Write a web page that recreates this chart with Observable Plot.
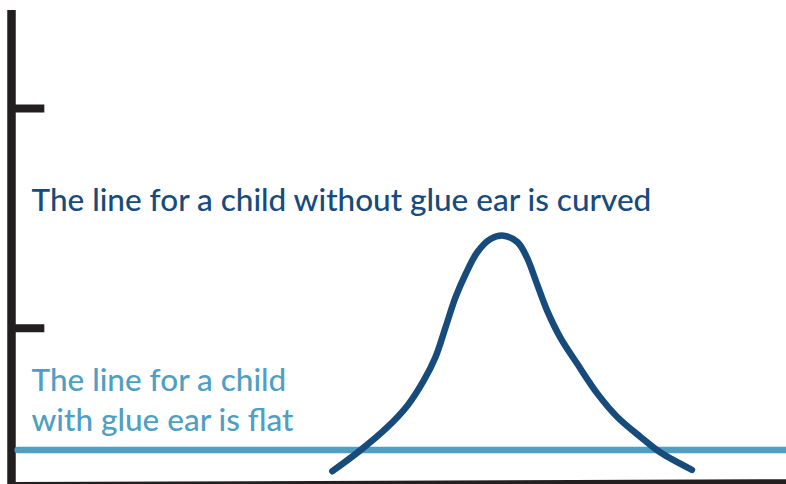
<!DOCTYPE html>
<html>
<head>
<meta charset="utf-8">
<script src="https://cdn.jsdelivr.net/npm/d3@7"></script>
<script src="https://cdn.jsdelivr.net/npm/@observablehq/plot@0.6"></script>
<style>
  html, body { margin: 0; padding: 0; background: #fff; }
  #chart svg { display: block; }
</style>
</head>
<body>
<div id="chart"></div>
<script>
// Curve for a child without glue ear (x: 0-100, y: 0-100)
const curveX = [41.4, 45.0, 48.5, 51.1, 53.2, 54.7, 56.0, 57.3, 58.6, 60.1, 61.8, 63.5, 65.3, 66.5, 67.8, 69.1, 70.8, 73.0, 75.6, 78.2, 81.2, 83.7, 87.8];
const curveY = [2.6, 7.0, 11.9, 16.5, 21.8, 26.7, 33.0, 39.4, 44.3, 48.9, 51.7, 52.4, 51.0, 47.8, 42.2, 36.6, 30.9, 25.3, 19.0, 14.0, 9.8, 6.6, 2.9];

// Flat line for a child with glue ear
const flatX = [0.8, 100];
const flatY = [7.1, 7.1];

// Hand-drawn axes
const axisTicks = [79.3, 32.8];
const axisBaseX = [0, 100];
const axisBaseTop = [0.2, 0.8];
const axisBaseBottom = [-0.6, -0.6];

// Labels
const labelCurved = "The line for a child without glue ear is curved";
const labelFlat = "The line for a child\nwith glue ear is flat";

const curve = curveX.map((x, i) => ({x, y: curveY[i]}));
const flat = flatX.map((x, i) => ({x, y: flatY[i]}));
const base = axisBaseX.map((x, i) => ({x, y1: axisBaseBottom[i], y2: axisBaseTop[i]}));

const dark = "#174b7b";
const light = "#509fc3";
const ink = "#231f20";

const chart = Plot.plot({
  width: 786,
  height: 484,
  margin: 0,
  x: {domain: [0, 100], range: [11, 786], axis: null},
  y: {domain: [0, 100], range: [483, 10], axis: null},
  style: {background: "#fff"},
  marks: [
    Plot.areaY(base, {x: "x", y1: "y1", y2: "y2", fill: ink}),
    Plot.ruleX([0], {y1: -1, y2: 100, stroke: ink, strokeWidth: 8.5}),
    Plot.ruleY(axisTicks, {x1: 0, x2: 4.3, stroke: ink, strokeWidth: 8}),
    Plot.line(flat, {x: "x", y: "y", stroke: light, strokeWidth: 6.5}),
    Plot.line(curve, {x: "x", y: "y", stroke: dark, strokeWidth: 6.5, curve: "catmull-rom", strokeLinecap: "round", strokeLinejoin: "round"}),
    Plot.text([labelCurved], {x: 2.58, y: 57.7, text: d => d, textAnchor: "start", lineAnchor: "bottom", fill: dark, fontSize: 31.5, fontWeight: 500, fontFamily: "Lato"}),
    Plot.text([labelFlat], {x: 2.58, y: 11.2, text: d => d, textAnchor: "start", lineAnchor: "bottom", lineHeight: 1.24, fill: light, fontSize: 31.5, fontWeight: 500, fontFamily: "Lato"})
  ]
});
document.getElementById("chart").appendChild(chart);
</script>
</body>
</html>
